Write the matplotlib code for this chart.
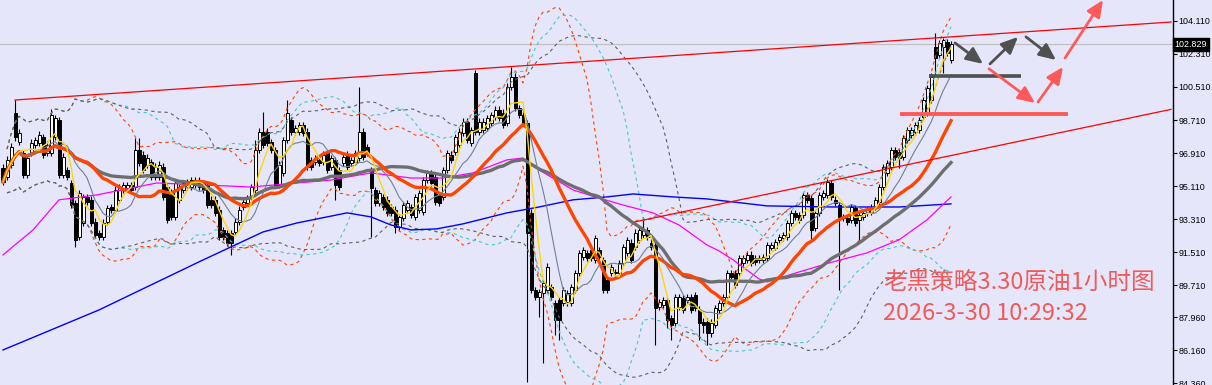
import matplotlib
matplotlib.use("Agg")
import matplotlib.pyplot as plt
import numpy as np
import pandas as pd

# ---- 1h crude oil candles ----
opens = [
    96.10, 95.61, 96.26, 99.10, 97.51, 96.92, 95.72, 96.92, 97.35, 97.46,
    97.79, 96.92, 96.92, 97.79, 98.71, 95.72, 95.99, 95.28, 94.19, 92.34,
    93.10, 94.52, 94.36, 93.16, 92.55, 92.34, 93.16, 93.97, 93.81, 94.36,
    94.90, 95.01, 95.17, 95.06, 97.08, 96.81, 96.26, 96.42, 95.61, 95.61,
    96.15, 95.06, 94.79, 93.43, 94.36, 94.90, 95.06, 95.06, 95.17, 95.45,
    95.28, 95.17, 94.36, 94.36, 93.81, 92.72, 92.55, 92.55, 92.61, 93.16,
    93.97, 94.19, 94.52, 94.90, 97.08, 98.06, 98.06, 97.51, 97.08, 95.17,
    95.83, 97.62, 98.71, 98.06, 98.06, 98.44, 98.06, 96.53, 96.42, 96.53,
    96.42, 96.92, 96.15, 96.53, 95.99, 96.37, 96.81, 96.37, 96.42, 96.64,
    98.06, 97.24, 95.99, 94.90, 94.19, 94.52, 94.36, 93.97, 93.81, 92.88,
    93.37, 93.81, 93.97, 93.43, 93.81, 93.70, 95.45, 95.83, 95.61, 94.63,
    94.52, 95.99, 96.81, 96.97, 97.35, 98.00, 98.60, 97.46, 101.28, 98.06,
    98.17, 98.28, 98.55, 98.88, 99.26, 99.10, 98.55, 100.51, 101.06, 99.37,
    98.99, 98.55, 93.65, 89.45, 89.07, 89.29, 89.45, 89.61, 88.74, 88.90,
    88.74, 88.79, 88.74, 89.45, 90.38, 91.25, 91.47, 91.63, 91.08, 91.63,
    91.08, 89.99, 90.38, 90.43, 90.38, 90.92, 91.47, 92.01, 91.79, 92.17,
    92.45, 92.72, 92.01, 91.90, 88.52, 88.63, 88.90, 87.92, 87.65, 88.52,
    89.01, 88.90, 89.07, 89.18, 88.36, 87.70, 87.70, 87.10, 87.54, 88.36,
    88.74, 89.07, 90.38, 90.38, 90.38, 90.92, 91.08, 91.36, 91.19, 91.08,
    91.08, 91.19, 91.74, 91.74, 92.17, 92.28, 92.34, 93.10, 93.65, 93.54,
    93.54, 94.63, 94.47, 92.83, 93.65, 94.52, 94.63, 95.28, 94.36, 94.08,
    93.43, 93.37, 93.27, 93.92, 93.27, 93.43, 93.65, 93.70, 93.97, 94.25,
    95.06, 95.83, 96.15, 97.08, 96.97, 96.70, 97.62, 97.90, 98.06, 98.17,
    98.88, 99.10, 99.80, 102.69, 102.26, 102.69, 102.97, 101.98,
]
highs = [
    96.30, 96.75, 97.45, 99.80, 98.20, 97.10, 96.85, 97.65, 97.80, 98.10,
    97.95, 97.55, 99.31, 99.00, 98.90, 96.90, 96.15, 95.45, 94.35, 94.90,
    94.70, 94.70, 94.55, 93.35, 92.72, 93.30, 94.10, 94.15, 95.10, 95.25,
    95.35, 95.35, 95.35, 97.73, 97.73, 97.00, 96.85, 96.60, 96.35, 96.45,
    96.35, 95.25, 94.95, 95.45, 95.25, 95.45, 95.50, 95.60, 95.60, 95.60,
    95.45, 95.35, 94.55, 94.55, 94.00, 92.90, 92.72, 92.72, 93.35, 94.00,
    94.40, 94.65, 95.25, 97.62, 98.25, 99.15, 98.25, 97.70, 97.25, 96.45,
    97.80, 99.80, 98.90, 98.45, 98.60, 98.60, 98.25, 96.70, 96.80, 96.70,
    97.00, 97.10, 96.80, 96.70, 96.15, 96.90, 97.00, 96.70, 97.10, 100.51,
    98.25, 97.40, 96.15, 95.05, 94.90, 94.70, 94.55, 94.15, 94.00, 93.60,
    94.25, 94.35, 94.15, 94.70, 94.90, 95.60, 96.00, 96.00, 95.80, 94.80,
    96.15, 97.10, 97.00, 97.95, 98.25, 98.80, 98.80, 98.35, 101.45, 98.80,
    98.80, 99.00, 99.15, 99.45, 99.45, 99.30, 100.70, 101.60, 101.25, 99.55,
    99.15, 98.70, 93.85, 89.60, 89.50, 90.00, 90.90, 89.80, 88.90, 89.05,
    89.60, 89.45, 89.80, 90.55, 91.65, 91.80, 91.65, 91.80, 92.45, 91.80,
    91.25, 90.15, 90.85, 90.60, 91.10, 91.95, 92.35, 92.20, 92.75, 92.90,
    93.40, 92.90, 92.20, 92.10, 88.95, 89.05, 89.05, 88.10, 89.25, 89.25,
    89.20, 89.25, 89.25, 89.35, 88.55, 87.90, 87.90, 87.85, 88.65, 88.90,
    89.25, 90.55, 90.55, 90.55, 91.35, 91.35, 91.55, 91.55, 91.35, 91.35,
    91.40, 92.05, 92.05, 92.20, 92.50, 92.60, 93.25, 93.80, 93.80, 93.70,
    94.80, 94.80, 94.65, 93.80, 94.80, 94.90, 95.50, 95.45, 94.55, 94.25,
    93.60, 93.55, 94.15, 94.10, 93.70, 93.80, 93.95, 94.15, 94.50, 95.25,
    96.30, 96.55, 97.25, 97.25, 97.15, 97.90, 98.35, 98.35, 98.60, 98.90,
    99.95, 100.60, 101.25, 103.46, 103.07, 103.18, 103.10, 103.00,
]
lows = [
    95.15, 95.45, 96.10, 97.55, 97.35, 95.55, 95.55, 96.75, 97.20, 97.30,
    96.65, 96.75, 96.75, 97.60, 95.55, 95.55, 95.45, 93.90, 91.79, 92.17,
    92.95, 94.10, 92.95, 92.28, 92.17, 92.17, 93.00, 93.65, 93.65, 94.20,
    94.75, 94.85, 94.75, 94.90, 96.20, 95.83, 96.10, 95.45, 95.45, 95.45,
    94.36, 93.10, 93.25, 93.25, 94.20, 94.75, 94.90, 94.90, 95.00, 94.90,
    94.75, 93.90, 93.90, 93.50, 92.17, 92.17, 91.85, 91.36, 92.45, 93.00,
    93.80, 94.05, 94.36, 94.75, 96.90, 97.20, 97.30, 96.90, 95.00, 95.00,
    95.65, 97.45, 97.90, 97.90, 97.90, 97.85, 96.00, 96.00, 96.25, 96.20,
    96.25, 95.83, 96.00, 94.36, 94.90, 96.20, 96.00, 96.20, 96.25, 96.50,
    96.55, 96.75, 92.34, 94.00, 94.00, 93.80, 93.50, 93.50, 92.55, 92.70,
    93.20, 93.65, 93.37, 93.25, 93.65, 93.55, 95.30, 95.10, 94.10, 94.00,
    94.36, 95.83, 96.36, 96.80, 97.20, 97.85, 97.45, 97.30, 97.90, 97.90,
    98.00, 98.10, 98.40, 98.70, 98.65, 98.25, 98.40, 100.35, 99.20, 98.80,
    98.40, 84.44, 89.30, 88.90, 88.00, 85.47, 89.30, 88.90, 86.98, 86.72,
    88.55, 88.60, 88.55, 89.30, 90.20, 91.10, 91.00, 91.00, 90.90, 91.10,
    89.30, 89.30, 90.20, 90.20, 90.20, 90.75, 91.30, 90.90, 91.60, 92.00,
    92.30, 92.17, 91.60, 86.45, 88.35, 88.45, 87.40, 86.72, 87.50, 88.35,
    88.20, 88.75, 88.20, 88.30, 86.72, 87.10, 86.45, 86.90, 87.35, 88.20,
    88.60, 88.90, 90.00, 89.55, 90.20, 90.75, 90.90, 90.75, 90.80, 90.90,
    90.90, 91.00, 91.60, 91.60, 92.00, 92.10, 92.17, 92.95, 93.25, 93.10,
    93.37, 94.20, 92.17, 92.65, 93.50, 94.36, 94.45, 94.36, 94.00, 89.45,
    93.20, 93.00, 93.10, 92.95, 92.06, 93.25, 93.50, 93.55, 93.80, 94.10,
    94.90, 95.65, 96.00, 96.55, 96.10, 96.55, 97.45, 97.75, 97.90, 98.00,
    98.70, 98.95, 99.65, 101.17, 102.10, 101.28, 102.20, 101.80,
]
closes = [
    95.34, 96.53, 97.24, 97.79, 98.00, 95.72, 96.64, 97.46, 97.62, 97.90,
    96.81, 97.35, 98.99, 98.82, 95.72, 96.70, 95.61, 94.08, 92.17, 94.74,
    94.52, 94.25, 93.10, 92.45, 92.34, 93.10, 93.92, 93.81, 94.90, 95.06,
    95.17, 95.17, 94.90, 97.08, 96.37, 95.99, 96.64, 95.61, 96.15, 96.26,
    94.52, 93.27, 93.43, 95.28, 95.06, 95.28, 95.34, 95.45, 95.45, 95.06,
    94.90, 94.08, 94.08, 93.65, 92.34, 92.34, 92.01, 92.01, 93.16, 93.81,
    94.25, 94.47, 95.06, 97.08, 98.06, 97.35, 97.46, 97.08, 95.17, 96.26,
    97.62, 99.10, 98.06, 98.28, 98.44, 98.00, 96.15, 96.15, 96.64, 96.37,
    96.81, 95.99, 96.64, 95.17, 95.06, 96.70, 96.15, 96.53, 96.92, 98.06,
    96.70, 96.92, 95.01, 94.19, 94.74, 93.97, 93.65, 93.65, 92.88, 93.43,
    94.08, 94.19, 93.54, 94.52, 94.74, 95.45, 95.83, 95.28, 94.25, 94.19,
    95.99, 96.92, 96.53, 97.79, 98.06, 98.60, 97.62, 98.17, 98.06, 98.60,
    98.60, 98.82, 98.99, 99.26, 98.82, 98.44, 100.51, 101.06, 99.37, 98.99,
    98.55, 92.55, 89.45, 89.07, 89.34, 89.83, 90.70, 89.07, 87.81, 87.81,
    89.45, 89.29, 89.61, 90.38, 91.47, 91.63, 91.19, 91.19, 92.28, 91.25,
    89.45, 89.45, 90.70, 90.38, 90.92, 91.79, 92.17, 91.08, 92.55, 92.72,
    92.72, 92.34, 91.79, 88.47, 88.79, 88.90, 87.81, 87.54, 89.07, 89.07,
    88.36, 89.07, 88.36, 88.47, 87.65, 87.54, 87.10, 87.65, 88.47, 88.74,
    89.07, 90.38, 90.16, 89.72, 91.19, 91.19, 91.36, 90.92, 90.98, 91.19,
    91.25, 91.90, 91.90, 92.06, 92.34, 92.45, 93.10, 93.65, 93.43, 93.27,
    94.63, 94.36, 92.72, 93.65, 94.63, 94.74, 95.34, 94.52, 94.19, 93.43,
    93.37, 93.16, 93.97, 93.10, 93.54, 93.65, 93.81, 93.97, 94.36, 95.06,
    96.15, 96.37, 97.08, 96.70, 96.64, 97.73, 98.17, 98.17, 98.44, 98.71,
    99.80, 100.46, 101.06, 102.09, 102.91, 103.07, 102.37, 102.83,
]

# long moving averages, sampled off the chart (bar index, price)
magenta_bar = [0, 7.5, 14, 23.5, 38.5, 62, 82, 92, 102, 110, 117.5, 126, 130, 134,
               142.5, 149, 155, 162.5, 169, 176, 179, 182.5, 189, 191, 199, 207.5,
               216, 224, 231, 237]
magenta_val = [91.36, 92.72, 94.36, 94.63, 95.28, 95.06, 95.44, 95.83, 95.55, 95.55,
               95.83, 96.54, 96.64, 95.99, 94.90, 94.46, 94.08, 93.65, 92.99, 91.90,
               91.58, 91.09, 90.05, 89.89, 90.43, 90.98, 91.47, 92.18, 93.27, 94.52]
blue_bar = [0, 24, 49, 65, 73.5, 86, 92, 97, 102, 108.5, 115, 126, 134, 142.5, 151,
            157.5, 167.5, 176, 191, 207.5, 224, 237]
blue_val = [86.18, 88.36, 90.98, 92.61, 93.10, 93.65, 93.43, 92.99, 92.72, 92.78,
            93.05, 93.65, 93.97, 94.36, 94.52, 94.68, 94.52, 94.41, 94.03, 93.97,
            93.97, 94.14]

y_ticks = [104.11, 102.31, 100.51, 98.71, 96.91, 95.11, 93.31, 91.51, 89.71, 87.96, 86.16, 84.36]
last_price = 102.829

# hand-drawn objects (bar index, price)
upper_trend = ([3, 292], [99.80, 104.05])
lower_trend = ([158, 292], [93.16, 99.29])
gray_level = ([231.5, 254.5], 101.11)
red_level = ([224.25, 266.25], 99.04)
gray_arrows = [((238, 102.91), (245, 101.77)),
               ((246.75, 101.77), (253.75, 103.24)),
               ((255.75, 103.24), (263.25, 101.98))]
red_arrows = [((246.5, 101.50), (258, 99.64)),
              ((258.75, 99.69), (265, 101.60)),
              ((265.5, 102.09), (275, 105.25))]
title_lines = ["老黑策略3.30原油1小时图", "2026-3-30 10:29:32"]

BG = "#E6E6FA"
W, H = 1212, 385
AX_W = 1173

fig = plt.figure(figsize=(W / 100, H / 100), dpi=100)
fig.patch.set_facecolor(BG)
ax = fig.add_axes([0, 0, AX_W / W, 1])
ax.set_facecolor(BG)

df = pd.DataFrame({"o": opens, "h": highs, "l": lows, "c": closes})
x = np.arange(len(df))

# candles
ax.vlines(x, df["l"], df["h"], color="black", lw=0.8, zorder=2)
up = df["c"] >= df["o"]
body_lo = np.minimum(df["o"], df["c"])
body_h = (df["c"] - df["o"]).abs()
ax.bar(x[up], body_h[up], bottom=body_lo[up], width=0.75, color="white",
       edgecolor="black", linewidth=0.7, zorder=3)
ax.bar(x[~up], body_h[~up], bottom=body_lo[~up], width=0.75, color="black",
       edgecolor="black", linewidth=0.7, zorder=3)

# indicators
c = df["c"]
dash = (0, (3, 3))
for n, col in [(21, "#FF4500"), (30, "#48C8C8"), (40, "#606060")]:
    mid = c.rolling(n, min_periods=1).mean()
    sd = c.rolling(n, min_periods=2).std(ddof=0)
    ax.plot(x, mid + 2 * sd, color=col, lw=0.8, ls=dash, zorder=4)
    ax.plot(x, mid - 2 * sd, color=col, lw=0.8, ls=dash, zorder=4)

ax.plot(blue_bar, blue_val, color="#0000FF", lw=1.0, zorder=5)
ax.plot(magenta_bar, magenta_val, color="#FF00FF", lw=0.9, zorder=5)
ax.plot(x, c.rolling(40, min_periods=1).mean(), color="#6E6E6E", lw=2.4, zorder=5)
ax.plot(x, c.rolling(21, min_periods=1).mean(), color="#FF4500", lw=2.4, zorder=6)
ax.plot(x, c.rolling(10, min_periods=1).mean(), color="#708090", lw=0.8, zorder=6)
ax.plot(x, c.rolling(5, min_periods=1).mean(), color="#FFD700", lw=1.0, zorder=7)

# current price line
ax.axhline(last_price, color="#C0C0C0", lw=0.9, zorder=1)

# trend lines
ax.plot(*upper_trend, color="#FF0000", lw=0.9, zorder=8)
ax.plot(*lower_trend, color="#FF0000", lw=0.9, zorder=8)

# levels and arrows
ax.hlines(gray_level[1], *gray_level[0], color="#505050", lw=2.6, zorder=9)
ax.hlines(red_level[1], *red_level[0], color="#FF5A5A", lw=2.8, zorder=9)
for (x0, y0), (x1, y1) in gray_arrows:
    ax.annotate("", xy=(x1, y1), xytext=(x0, y0), zorder=10,
                arrowprops=dict(arrowstyle="-|>,head_length=1.0,head_width=0.45",
                                color="#505050", lw=2, shrinkA=0, shrinkB=0,
                                mutation_scale=10))
for (x0, y0), (x1, y1) in red_arrows:
    ax.annotate("", xy=(x1, y1), xytext=(x0, y0), zorder=10,
                arrowprops=dict(arrowstyle="-|>,head_length=1.0,head_width=0.45",
                                color="#FF5A5A", lw=2, shrinkA=0, shrinkB=0,
                                mutation_scale=10))

# axes
ax.set_xlim(-0.75, (AX_W - 3) / 4)
ax.set_ylim(84.27, 105.25)
for s in ["left", "top", "bottom"]:
    ax.spines[s].set_visible(False)
ax.spines["right"].set_color("black")
ax.spines["right"].set_linewidth(1.0)
ax.set_xticks([])
ax.yaxis.tick_right()
ax.set_yticks(y_ticks)
ax.set_yticklabels([f"{v:.3f}" for v in y_ticks])
ax.tick_params(axis="y", direction="out", length=3, width=0.8, pad=1,
               labelsize=6.4, colors="black")
for lbl in ax.get_yticklabels():
    lbl.set_family("Liberation Sans")

ax.annotate(f"{last_price:.3f}", xy=(1.0, last_price), xycoords=("axes fraction", "data"),
            xytext=(1.2, 0), textcoords="offset points", ha="left", va="center",
            fontsize=6.4, family="Liberation Sans", color="white", zorder=20,
            bbox=dict(boxstyle="square,pad=0.2", fc="black", ec="black"),
            annotation_clip=False)

# caption text
fig.text(883 / W, 1 - 282 / H, title_lines[0], color="#F05A5A", fontsize=17,
         family=["Noto Sans CJK SC", "DejaVu Sans"], va="center", ha="left")
fig.text(883 / W, 1 - 313 / H, title_lines[1], color="#F05A5A", fontsize=17,
         family=["Noto Sans CJK SC", "DejaVu Sans"], va="center", ha="left")

fig.savefig("out.png", dpi=100, facecolor=fig.get_facecolor())
